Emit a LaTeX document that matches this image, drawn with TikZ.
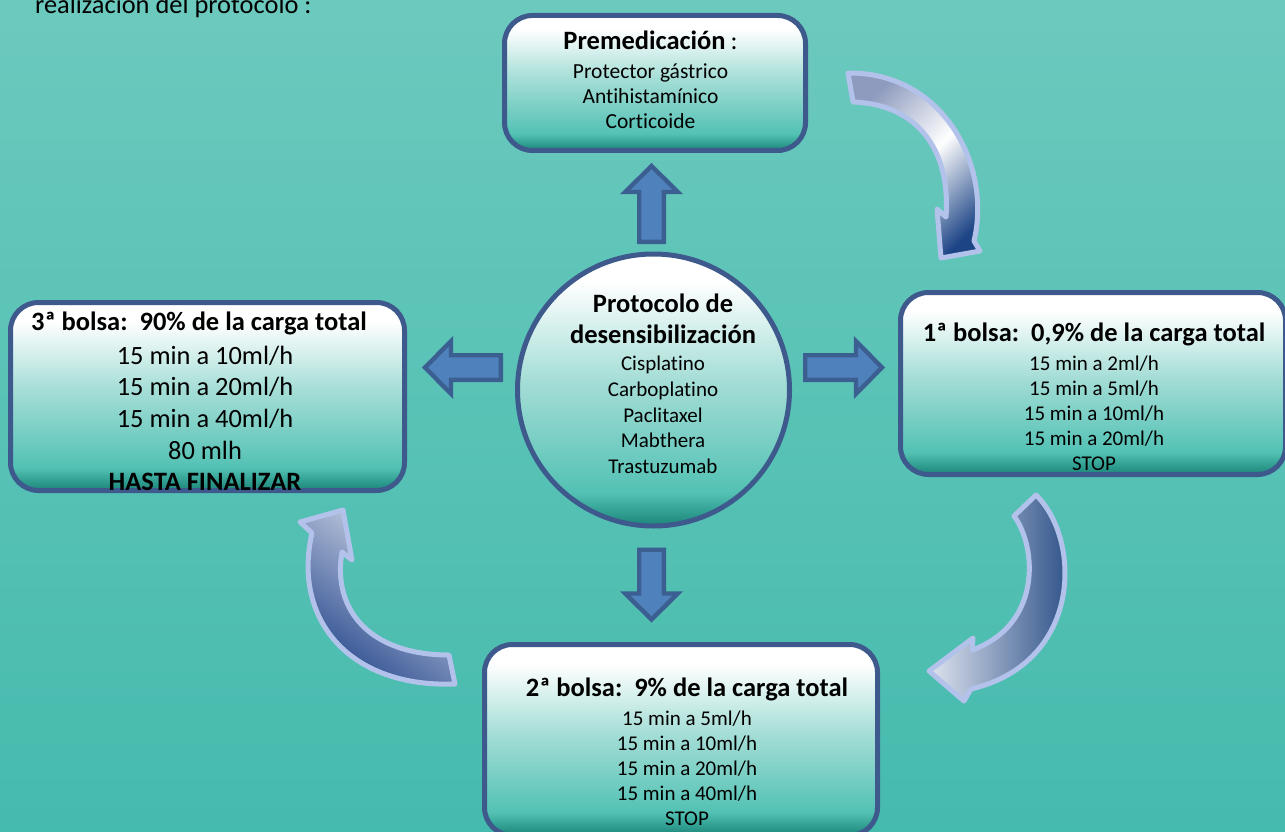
\documentclass[tikz,border=0pt]{standalone}
\usepackage{fontspec}
\setmainfont{Carlito}[Ligatures=NoCommon]
\definecolor{bgtop}{HTML}{6CC9BE}
\definecolor{bgbot}{HTML}{45BBAD}
\definecolor{boxline}{HTML}{3E5A8C}
\definecolor{boxdeep}{HTML}{1C8479}
\definecolor{boxdark}{HTML}{34A396}
\definecolor{boxteal}{HTML}{52C1B4}
\definecolor{boxmid}{HTML}{A6DED7}
\definecolor{arrowedge}{HTML}{3C5F91}
\definecolor{arrowfill}{HTML}{4F81BD}
\definecolor{curveedge}{HTML}{B3C2EA}
\definecolor{onetail}{HTML}{8E9BBE}
\definecolor{onehead}{HTML}{1D4586}
\definecolor{twolight}{HTML}{DFE4EF}
\definecolor{twodark}{HTML}{1F4580}
\definecolor{threelight}{HTML}{D5DBEA}
\definecolor{threedark}{HTML}{22448A}
\pgfdeclareverticalshading{boxshade}{100bp}{color(0bp)=(boxdeep); color(25bp)=(boxdeep); color(28bp)=(boxdark); color(31bp)=(boxteal); color(52bp)=(boxmid); color(70bp)=(white); color(100bp)=(white)}
\newcommand{\smallfnt}{\fontsize{21}{25}\selectfont}
\newcommand{\circfnt}{\fontsize{21}{25.6}\selectfont}
\newcommand{\bigfnt}{\fontsize{26.4}{31.7}\selectfont}
\newcommand{\headfnt}{\bfseries\fontsize{26.5}{31.7}\selectfont}
\tikzstyle{roundbox} = [draw=boxline, line width=5pt, rounded corners=28pt, shade, shading=boxshade, inner sep=0pt]
\tikzstyle{ringnode} = [draw=boxline, line width=5pt, circle, shade, shading=boxshade, inner sep=0pt]
\tikzstyle{boxtext} = [align=center, inner sep=0pt, font=\smallfnt, anchor=north]
\tikzstyle{blockarrow} = [draw=arrowedge, fill=arrowfill, line width=4.4pt, line join=miter]
\tikzstyle{curvedarrow} = [draw=curveedge, line width=5pt, line join=round]
\tikzset{pics/fatarrow/.style={code={
  \draw[blockarrow] ({-#1/2+2.2},-12.3) -- ({#1/2-29},-12.3) -- ({#1/2-29},-26.3) -- ({#1/2-3},0)
    -- ({#1/2-29},26.3) -- ({#1/2-29},12.3) -- ({-#1/2+2.2},12.3) -- cycle;}}}

\begin{document}
\begin{tikzpicture}[x=1pt, y=-1pt]
\useasboundingbox (0,0) rectangle (1285,832);
\clip (0,0) rectangle (1285,832);
\shade[top color=bgtop, bottom color=bgbot] (0,0) rectangle (1285,832);

\node[anchor=base west, inner sep=0pt, font=\bigfnt] (intro) at (35,14) {realización del protocolo :};

% curved arrows between the bags
\draw[curvedarrow, top color=onetail, bottom color=onehead, middle color=white, shading angle=45]
  (848,73) .. controls (943,72) and (992,165) .. (974,241) -- (980,251) -- (941,258) -- (937,209)
  -- (946,217) .. controls (951,146) and (914,104) .. (853,102) -- cycle;
\draw[curvedarrow, left color=twolight, right color=twodark]
  (1036,495) .. controls (1082,540) and (1082,663) .. (971,689) -- (964,701) -- (929,671) -- (973,638)
  -- (972,650) .. controls (1042,625) and (1037,547) .. (1014,516) -- cycle;
\draw[curvedarrow, top color=threelight, bottom color=threedark, shading angle=-37]
  (312,533) .. controls (292,620) and (350,688) .. (455,684) -- (449,655)
  .. controls (370,655) and (332,610) .. (342,552) -- (352,560) -- (343,510) -- (300,522) -- cycle;

% boxes
\node[roundbox, minimum width=301pt, minimum height=135pt] (prem) at (655,83) {};
\node[roundbox, minimum width=385pt, minimum height=182pt] (bolsa1) at (1093,383.5) {};
\node[roundbox, minimum width=393pt, minimum height=191pt] (bolsa2) at (681,740) {};
\node[roundbox, minimum width=394pt, minimum height=188pt] (bolsa3) at (207.5,396.5) {};
\node[ringnode, minimum size=272pt] (circ) at (653.5,390) {};

% straight arrows out of the protocol
\pic[rotate=90] (toprem) at (651.5,203.5) {fatarrow=81};
\pic (tobolsa1) at (844,367.5) {fatarrow=82};
\pic[rotate=-90] (tobolsa2) at (651.5,585) {fatarrow=75};
\pic[rotate=180] (tobolsa3) at (462.5,367.5) {fatarrow=81};

% texts
\node[boxtext, font=\fontsize{21.5}{25}\selectfont, xshift=-4.5pt, yshift=-18pt] (premtxt) at (prem.north)
  {{\headfnt Premedicación} {\fontsize{26}{30}\selectfont :}\\[3.6pt]
   Protector gástrico\\Antihistamínico\\Corticoide};
\node[boxtext, font=\circfnt, xshift=9.5pt, yshift=-42pt] (circtxt) at (circ.north)
  {{\headfnt Protocolo de}\\[6.1pt]{\headfnt desensibilización}\\[1.4pt]
   Cisplatino\\Carboplatino\\Paclitaxel\\Mabthera\\Trastuzumab};
\node[boxtext, xshift=1pt, yshift=-33pt] (bolsa1txt) at (bolsa1.north)
  {{\headfnt 1ª bolsa:~~0,9\% de la carga total}\\[3.6pt]
   15 min a 2ml/h\\15 min a 5ml/h\\15 min a 10ml/h\\15 min a 20ml/h\\STOP};
\node[boxtext, xshift=6pt, yshift=-36pt] (bolsa2txt) at (bolsa2.north)
  {{\headfnt 2ª bolsa:~~9\% de la carga total}\\[3.7pt]
   15 min a 5ml/h\\15 min a 10ml/h\\15 min a 20ml/h\\15 min a 40ml/h\\STOP};
\node[boxtext, font=\bigfnt, xshift=-2.5pt, yshift=-12pt] (bolsa3txt) at (bolsa3.north)
  {{\headfnt 3ª bolsa:~~90\% de la carga total\hspace*{12pt}}\\[1.6pt]
   15 min a 10ml/h\\15 min a 20ml/h\\15 min a 40ml/h\\80 mlh\\{\headfnt HASTA FINALIZAR}};
\end{tikzpicture}
\end{document}
